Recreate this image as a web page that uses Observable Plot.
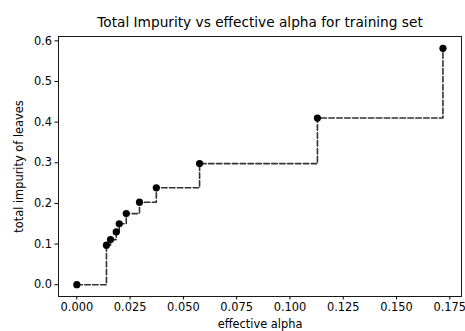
<!DOCTYPE html>
<html>
<head>
<meta charset="utf-8">
<script src="https://cdn.jsdelivr.net/npm/d3@7"></script>
<script src="https://cdn.jsdelivr.net/npm/@observablehq/plot@0.6"></script>
<style>
  html, body { margin: 0; padding: 0; background: white; }
</style>
</head>
<body>
<div id="chart"></div>
<script>
const titleText = "Total Impurity vs effective alpha for training set";
const xLabel = "effective alpha";
const yLabel = "total impurity of leaves";
const alpha = [0, 0.0139, 0.0158, 0.0185, 0.0199, 0.0232, 0.0294, 0.0373, 0.0576, 0.1129, 0.1718];
const impurity = [0, 0.0973, 0.111, 0.130, 0.150, 0.175, 0.203, 0.2385, 0.298, 0.410, 0.5816];
const xTicks = [0, 0.025, 0.05, 0.075, 0.1, 0.125, 0.15, 0.175];
const yTicks = [0, 0.1, 0.2, 0.3, 0.4, 0.5, 0.6];

const data = alpha.map((a, i) => ({alpha: a, impurity: impurity[i]}));

const chart = Plot.plot({
  width: 465,
  height: 331,
  marginLeft: 58,
  marginRight: 4,
  marginTop: 36,
  marginBottom: 35,
  style: {fontFamily: "DejaVu Sans", fontSize: "11.4px", color: "black", background: "white", overflow: "visible"},
  x: {domain: [-0.0086, 0.1805]},
  y: {domain: [-0.029, 0.6107]},
  marks: [
    Plot.line(data, {x: "alpha", y: "impurity", curve: "step-after", stroke: "#333", strokeWidth: 1.6, strokeDasharray: "5.5,2.4"}),
    Plot.dot(data, {x: "alpha", y: "impurity", r: 3.6, fill: "black", stroke: "none"}),
    Plot.frame({stroke: "black", strokeWidth: 0.9}),
    Plot.axisX({ticks: xTicks, tickFormat: d3.format(".3f"), tickSize: 3.5, tickPadding: 3, label: null, stroke: "black", fontSize: 11.4}),
    Plot.axisY({ticks: yTicks, tickFormat: d3.format(".1f"), tickSize: 3.5, tickPadding: 3, label: null, stroke: "black", fontSize: 11.4}),
    Plot.text([titleText], {text: d => d, frameAnchor: "top", dy: -10, lineAnchor: "bottom", fontSize: 13.7, fill: "black"}),
    Plot.text([xLabel], {text: d => d, frameAnchor: "bottom", dy: 27.5, lineAnchor: "middle", fontSize: 11.4, fill: "black"}),
    Plot.text([yLabel], {text: d => d, frameAnchor: "left", textAnchor: "middle", dx: -39, rotate: -90, lineAnchor: "middle", fontSize: 11.4, fill: "black"})
  ]
});
document.getElementById("chart").appendChild(chart);
</script>
</body>
</html>
